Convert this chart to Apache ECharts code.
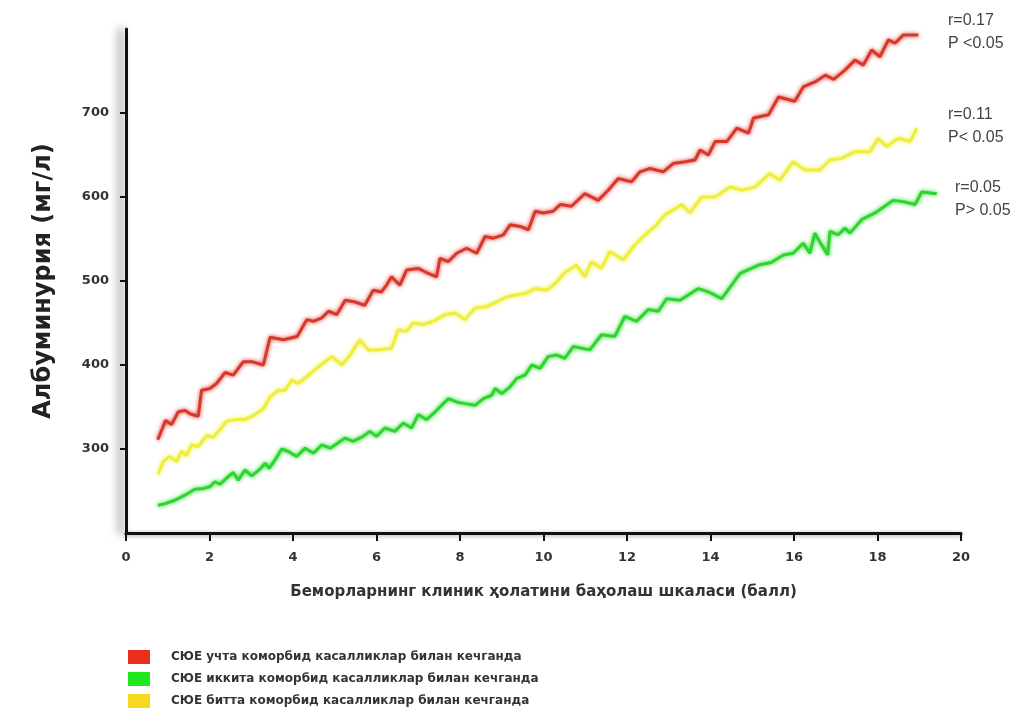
<!DOCTYPE html>
<html>
<head>
<meta charset="utf-8">
<script src="https://cdn.jsdelivr.net/npm/echarts@6/dist/echarts.min.js"></script>
<style>
html,body{margin:0;padding:0;background:#fff;}
#chart{width:1017px;height:709px;}
</style>
</head>
<body>
<div id="chart"></div>
<script>
// ---- data ----
const seriesNames = [
  'СЮЕ учта коморбид касалликлар билан кечганда',
  'СЮЕ иккита коморбид касалликлар билан кечганда',
  'СЮЕ битта коморбид касалликлар билан кечганда'
];
const xTicks = [0, 2, 4, 6, 8, 10, 12, 14, 16, 18, 20];
const yTickLabels = [300, 400, 500, 600, 700];

const redX = [0.76,0.95,1.09,1.25,1.41,1.53,1.73,1.81,2.01,2.17,2.37,2.57,2.81,3.01,3.29,3.45,3.77,4.1,4.33,4.49,4.69,4.85,5.05,5.25,5.49,5.72,5.92,6.12,6.24,6.36,6.56,6.72,7.0,7.16,7.44,7.52,7.72,7.92,8.16,8.4,8.6,8.8,9.04,9.2,9.44,9.64,9.8,9.99,10.23,10.4,10.67,10.99,11.31,11.55,11.79,12.11,12.31,12.55,12.87,13.11,13.39,13.63,13.75,13.95,14.11,14.39,14.63,14.91,15.03,15.39,15.63,16.02,16.22,16.5,16.75,16.95,17.22,17.46,17.66,17.86,18.06,18.26,18.42,18.62,18.98];
const redY = [311,334,329,344,346,342,339,370,372,378,391,388,404,404,400,433,430,434,454,452,456,464,460,477,475,471,489,487,495,505,495,513,515,511,505,527,523,533,539,533,553,551,555,567,565,561,583,581,583,591,589,604,596,608,622,618,630,634,630,640,642,644,656,650,666,666,682,676,694,698,719,714,731,737,745,740,751,763,757,775,767,787,783,793,793];

const greenX = [0.76,0.94,1.17,1.41,1.65,1.85,2.01,2.13,2.25,2.45,2.57,2.69,2.85,3.01,3.21,3.33,3.43,3.57,3.73,3.89,4.09,4.29,4.49,4.69,4.89,5.25,5.44,5.68,5.84,6.0,6.2,6.44,6.64,6.84,7.0,7.2,7.4,7.72,7.92,8.12,8.36,8.56,8.76,8.84,9.0,9.2,9.36,9.56,9.72,9.92,10.11,10.31,10.51,10.71,11.11,11.39,11.71,11.95,12.23,12.51,12.75,12.95,13.27,13.71,13.95,14.27,14.71,15.15,15.45,15.75,15.98,16.22,16.38,16.5,16.66,16.81,16.86,17.06,17.22,17.34,17.62,17.94,18.38,18.66,18.9,19.06,19.42];
const greenY = [233,235,239,245,252,253,255,261,258,267,272,263,275,268,276,283,277,287,300,297,291,301,295,305,301,313,309,315,321,315,325,321,331,325,341,335,344,360,356,354,352,360,364,372,366,374,384,388,400,396,410,412,408,422,418,436,434,458,452,466,464,479,477,491,487,479,509,519,522,531,533,545,533,557,543,531,559,555,563,557,573,581,596,594,591,606,604];

const yellowX = [0.77,0.89,1.05,1.21,1.33,1.45,1.57,1.73,1.93,2.09,2.25,2.41,2.61,2.85,3.09,3.29,3.45,3.65,3.81,3.97,4.13,4.37,4.61,4.93,5.17,5.37,5.6,5.8,6.04,6.36,6.52,6.72,6.88,7.12,7.4,7.64,7.88,8.12,8.36,8.6,8.88,9.12,9.32,9.56,9.8,10.08,10.28,10.51,10.79,10.99,11.15,11.39,11.59,11.91,12.15,12.43,12.67,12.91,13.19,13.31,13.51,13.79,14.11,14.47,14.75,15.07,15.42,15.66,15.98,16.26,16.62,16.86,17.14,17.46,17.82,18.02,18.22,18.5,18.78,18.94];
const yellowY = [270,285,291,285,297,292,305,303,316,314,323,333,335,335,341,348,362,370,370,382,378,388,398,410,400,412,430,418,418,420,442,440,450,448,453,460,462,454,468,469,475,481,483,485,491,489,497,510,519,505,523,515,535,525,541,555,565,579,587,591,581,600,600,612,608,612,628,620,642,632,632,644,646,654,654,670,660,670,666,682];

const annotations = [
  ['r=0.17', 'P <0.05'],
  ['r=0.11', 'P< 0.05'],
  ['r=0.05', 'P> 0.05']
];

// ---- build ----
const zip = (xs, ys) => xs.map((x, i) => [x, ys[i]]);
const lineColors = ['#d8382c', '#2fd52f', '#eeee3c'];
const legendColors = ['#e8301c', '#1ee81e', '#f5d820'];
const seriesData = [zip(redX, redY), zip(greenX, greenY), zip(yellowX, yellowY)];

const chart = echarts.init(document.getElementById('chart'));
const font = 'Liberation Sans, Arial, sans-serif';
const wide = 'DejaVu Sans, sans-serif';

const option = {
  backgroundColor: '#fff',
  animation: false,
  grid: { left: 126, right: 56, top: 29, bottom: 176 },
  xAxis: {
    type: 'value', min: 0, max: 20, interval: 2,
    name: 'Беморларнинг клиник ҳолатини баҳолаш шкаласи (балл)',
    nameLocation: 'middle', nameGap: 52,
    nameTextStyle: { fontFamily: wide, fontSize: 15, fontWeight: 'bold', color: '#333' },
    axisLine: { lineStyle: { color: '#111', width: 3, shadowColor: 'rgba(0,0,0,0.35)', shadowBlur: 4, shadowOffsetY: 1 } },
    axisTick: { show: true, inside: false, length: 8, lineStyle: { color: '#111', width: 2 } },
    axisLabel: { fontFamily: wide, fontSize: 13, fontWeight: 'bold', color: '#333', margin: 18,
      customValues: xTicks },
    splitLine: { show: false }
  },
  yAxis: {
    type: 'value', min: 200, max: 800, interval: 100,
    name: 'Албуминурия (мг/л)',
    nameLocation: 'middle', nameGap: 70, nameRotate: 90,
    nameTextStyle: { fontFamily: wide, fontSize: 24, fontWeight: 'bold', color: '#222' },
    axisLine: { show: true, lineStyle: { color: '#111', width: 3, shadowColor: 'rgba(0,0,0,0.6)', shadowBlur: 8, shadowOffsetX: -6 } },
    axisTick: { show: true, inside: false, length: 6, lineStyle: { color: '#111', width: 2 }, customValues: yTickLabels },
    axisLabel: { fontFamily: wide, fontSize: 13, fontWeight: 'bold', color: '#333', margin: 17, customValues: yTickLabels },
    splitLine: { show: false }
  },
  legend: {
    orient: 'vertical', left: 128, top: 650, padding: 0,
    itemWidth: 22, itemHeight: 14, itemGap: 8,
    icon: 'rect',
    textStyle: { fontFamily: wide, fontSize: 12, fontWeight: 'bold', color: '#333', padding: [0, 0, 0, 16] },
    data: seriesNames.map((n, i) => ({ name: n, itemStyle: { color: legendColors[i] } }))
  },
  series: seriesNames.map((n, i) => ({
    name: n, type: 'line', data: seriesData[i],
    showSymbol: false, symbol: 'none', smooth: false,
    lineStyle: { color: lineColors[i], width: 3, shadowColor: lineColors[i], shadowBlur: 4 },
    itemStyle: { color: lineColors[i] },
    z: 3 - i
  })),
  graphic: [
    { type: 'text', left: 948, top: 9, style: { text: annotations[0].join('\n'), font: '16px ' + font, fill: '#444', lineHeight: 23 } },
    { type: 'text', left: 948, top: 103, style: { text: annotations[1].join('\n'), font: '16px ' + font, fill: '#444', lineHeight: 23 } },
    { type: 'text', left: 955, top: 176, style: { text: annotations[2].join('\n'), font: '16px ' + font, fill: '#444', lineHeight: 23 } }
  ]
};
chart.setOption(option);
</script>
</body>
</html>
